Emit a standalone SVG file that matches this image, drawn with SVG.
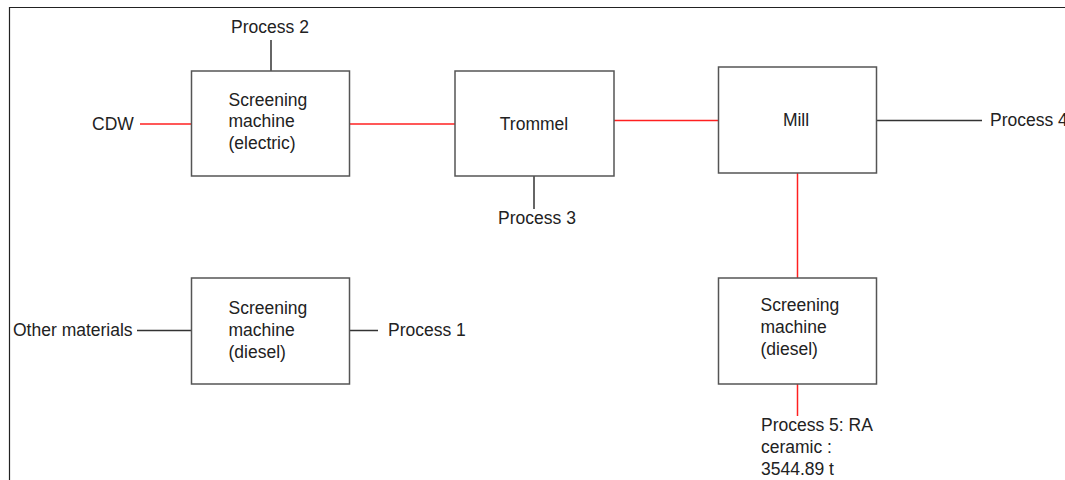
<svg xmlns="http://www.w3.org/2000/svg" width="1065" height="480" viewBox="0 0 1065 480">
<style>
.box{fill:#fff;stroke:#555;stroke-width:1.5}
.t{font-family:"Liberation Sans",Arial,sans-serif;font-size:17.5px;fill:#222}
.c{text-anchor:middle}
.red{stroke:#ff2020;stroke-width:1.5;fill:none}
.blk{stroke:#333;stroke-width:1.5;fill:none}
</style>
<rect x="0" y="0" width="1065" height="480" fill="#fff"/>
<path d="M9.5 480V7.5H1065" fill="none" stroke="#222" stroke-width="1.2"/>
<g id="connectors">
<line class="red" x1="140" y1="124" x2="191.5" y2="124"/>
<line class="red" x1="349.5" y1="124" x2="455" y2="124"/>
<line class="red" x1="614" y1="120.5" x2="718.5" y2="120.5"/>
<line class="red" x1="797.5" y1="173" x2="797.5" y2="278"/>
<line class="red" x1="797.5" y1="384" x2="797.5" y2="416"/>
<line class="blk" x1="271" y1="40" x2="271" y2="71"/>
<line class="blk" x1="534" y1="176" x2="534" y2="209"/>
<line class="blk" x1="877" y1="120.5" x2="982" y2="120.5"/>
<line class="blk" x1="137" y1="330.5" x2="191.5" y2="330.5"/>
<line class="blk" x1="349.5" y1="330.5" x2="378" y2="330.5"/>
</g>
<g id="screen-electric">
<rect class="box" x="191.5" y="71" width="158" height="105"/>
<text class="t" x="228.5" y="106">Screening</text>
<text class="t" x="228.5" y="127">machine</text>
<text class="t" x="228.5" y="149">(electric)</text>
</g>
<g id="trommel">
<rect class="box" x="455" y="71" width="159" height="105"/>
<text class="t c" x="534" y="130">Trommel</text>
</g>
<g id="mill">
<rect class="box" x="718.5" y="67" width="158" height="106"/>
<text class="t c" x="796" y="126">Mill</text>
</g>
<g id="screen-diesel-1">
<rect class="box" x="191.5" y="278" width="158" height="106"/>
<text class="t" x="228.5" y="314">Screening</text>
<text class="t" x="228.5" y="336">machine</text>
<text class="t" x="228.5" y="358">(diesel)</text>
</g>
<g id="screen-diesel-2">
<rect class="box" x="718.5" y="278" width="158" height="106"/>
<text class="t" x="760.5" y="311">Screening</text>
<text class="t" x="760.5" y="333">machine</text>
<text class="t" x="760.5" y="355">(diesel)</text>
</g>
<g id="labels">
<text class="t c" x="270" y="33">Process 2</text>
<text class="t" x="92" y="130">CDW</text>
<text class="t c" x="537" y="224">Process 3</text>
<text class="t" x="990" y="126">Process 4</text>
<text class="t" x="13" y="336">Other materials</text>
<text class="t" x="388" y="336">Process 1</text>
<text class="t" x="761" y="431">Process 5: RA</text>
<text class="t" x="761" y="453">ceramic :</text>
<text class="t" x="761" y="475">3544.89 t</text>
</g>
</svg>
